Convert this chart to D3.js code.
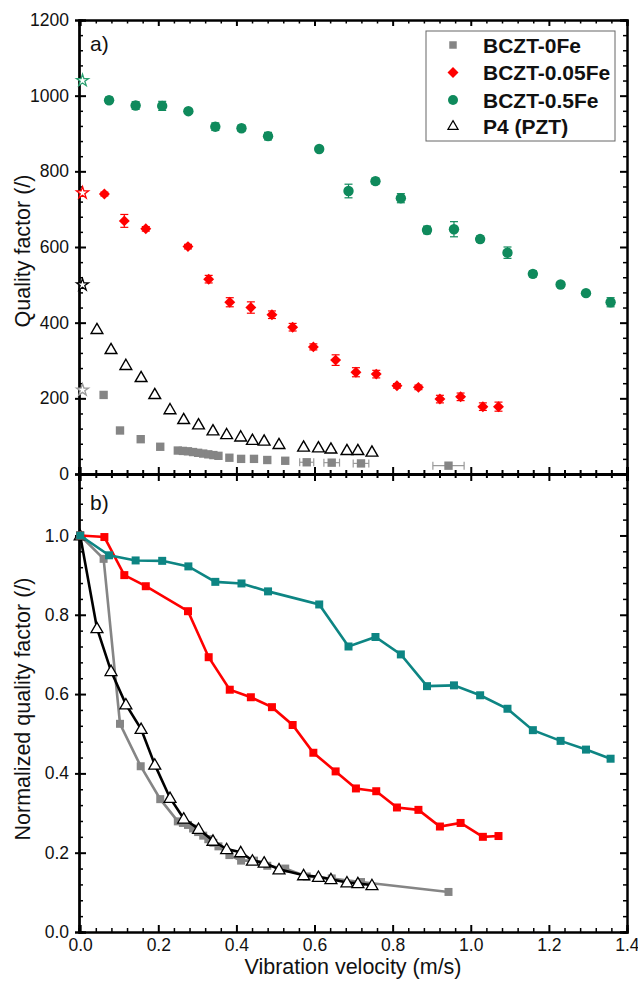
<!DOCTYPE html>
<html>
<head>
<meta charset="utf-8">
<script src="https://cdn.jsdelivr.net/npm/d3@7/dist/d3.min.js"></script>
<style>
  body { margin: 0; background: #fff; }
  text { font-family: "Liberation Sans", Arial, sans-serif; }
</style>
</head>
<body>
<div id="chart"></div>
<script>
// ---- data ----
// a) quality factor vs vibration velocity
var seriesNames = ["BCZT-0Fe", "BCZT-0.05Fe", "BCZT-0.5Fe", "P4 (PZT)"];

// value at v = 0 (stars on the y axis)
var starQ = [222, 743, 1040, 500];

var grayX = [0.06, 0.102, 0.155, 0.205, 0.25, 0.263, 0.276, 0.289, 0.302, 0.315, 0.328, 0.341, 0.354, 0.382, 0.412, 0.445, 0.479, 0.525, 0.58, 0.644, 0.719, 0.943];
var grayQ = [209, 115, 92, 72, 62, 61, 60, 58, 56, 54, 52, 50, 48, 43, 40, 40, 37, 35, 31, 30, 28, 22];
var grayXErr = [0, 0, 0, 0, 0, 0, 0, 0, 0, 0, 0, 0, 0, 0, 0, 0, 0, 0, 0.018, 0.02, 0.02, 0.04];

var redX = [0.062, 0.113, 0.168, 0.276, 0.329, 0.383, 0.437, 0.491, 0.544, 0.597, 0.654, 0.706, 0.758, 0.811, 0.866, 0.921, 0.974, 1.031, 1.071];
var redQ = [740, 669, 648, 601, 515, 454, 440, 421, 388, 336, 301, 269, 264, 233, 229, 198, 204, 178, 178];
var redErr = [5, 17, 6, 6, 10, 12, 15, 10, 10, 8, 14, 12, 10, 6, 6, 10, 10, 10, 12];

var greenX = [0.074, 0.142, 0.21, 0.277, 0.346, 0.413, 0.481, 0.612, 0.687, 0.756, 0.821, 0.888, 0.957, 1.024, 1.094, 1.159, 1.23, 1.295, 1.358];
var greenQ = [988, 974, 973, 959, 918, 914, 893, 859, 748, 774, 729, 645, 647, 621, 585, 529, 501, 478, 454];
var greenErr = [8, 10, 12, 6, 10, 8, 10, 6, 18, 8, 12, 10, 20, 8, 15, 8, 6, 6, 12];

var pztX = [0.043, 0.079, 0.117, 0.156, 0.191, 0.23, 0.265, 0.303, 0.34, 0.375, 0.411, 0.441, 0.471, 0.509, 0.572, 0.61, 0.642, 0.683, 0.711, 0.747];
var pztQ = [383, 330, 288, 256, 211, 171, 145, 131, 115, 105, 99, 90, 88, 79, 72, 70, 67, 63, 63, 59];

// b) normalized quality factor (first point is v = 0)
var grayN = [1.0, 0.941, 0.525, 0.418, 0.335, 0.279, 0.275, 0.27, 0.261, 0.252, 0.243, 0.234, 0.225, 0.216, 0.194, 0.18, 0.18, 0.167, 0.16, 0.14, 0.135, 0.126, 0.101];
var redN = [1.0, 0.996, 0.90, 0.872, 0.809, 0.693, 0.611, 0.592, 0.567, 0.522, 0.452, 0.405, 0.362, 0.355, 0.314, 0.308, 0.266, 0.275, 0.24, 0.242];
var greenN = [1.0, 0.95, 0.937, 0.936, 0.922, 0.883, 0.879, 0.859, 0.826, 0.72, 0.744, 0.70, 0.62, 0.622, 0.597, 0.563, 0.509, 0.482, 0.46, 0.437];
var pztN = [1.0, 0.766, 0.658, 0.574, 0.512, 0.422, 0.338, 0.286, 0.26, 0.23, 0.209, 0.201, 0.18, 0.175, 0.158, 0.143, 0.139, 0.133, 0.125, 0.123, 0.118];

// ticks
var xTicks = [0, 0.2, 0.4, 0.6, 0.8, 1.0, 1.2, 1.4];
var qTicks = [0, 200, 400, 600, 800, 1000, 1200];
var nTicks = [0, 0.2, 0.4, 0.6, 0.8, 1.0];

// ---- layout ----
var svgWidth = 638, svgHeight = 982;
var left = 79, right = 627;
var topA = 20, midY = 474, bottomB = 932;

var colGray = "#858585", colRed = "#ff0000", colGreen = "#0f8a5c", colTeal = "#0d8583";

var svg = d3.select("#chart").append("svg")
  .attr("width", svgWidth)
  .attr("height", svgHeight);

var xScale = d3.scaleLinear().domain([-0.003, 1.4]).range([left, right]);
var yQ = d3.scaleLinear().domain([0, 1200]).range([midY, topA]);
var yN = d3.scaleLinear().domain([0, 1.155]).range([bottomB, midY]);

// minor ticks between majors
var xMinor = d3.range(0, 1.401, 0.04).filter(v => Math.abs(v / 0.2 - Math.round(v / 0.2)) > 1e-6);
var qMinor = d3.range(0, 1201, 40).filter(v => v % 200 !== 0);
var nMinor = d3.range(0, 1.16, 0.04).filter(v => Math.abs(v / 0.2 - Math.round(v / 0.2)) > 1e-6);

function styleAxis(g, w) {
  g.select(".domain").attr("stroke", "#000").attr("stroke-width", w);
  g.selectAll(".tick line").attr("stroke", "#000").attr("stroke-width", 2);
  g.selectAll(".tick text").attr("font-size", "17.5px").attr("fill", "#111")
    .attr("font-family", "'Liberation Sans', Arial, sans-serif");
}

function addAxis(axis, tx, ty, w) {
  var g = svg.append("g").attr("transform", `translate(${tx},${ty})`).call(axis);
  styleAxis(g, w || 2);
  return g;
}

// y axes for both panels
function yAxes(yScale, major, minor, fmt) {
  addAxis(d3.axisLeft(yScale).tickValues(major).tickSize(-7).tickPadding(10).tickFormat(fmt), left, 0);
  addAxis(d3.axisLeft(yScale).tickValues(major).tickSize(4).tickFormat(""), left, 0);
  addAxis(d3.axisLeft(yScale).tickValues(minor).tickSize(-4).tickFormat(""), left, 0)
    .selectAll(".tick line").attr("stroke-width", 1.5);
  addAxis(d3.axisRight(yScale).tickValues(major).tickSize(-7).tickFormat(""), right, 0);
  addAxis(d3.axisRight(yScale).tickValues(minor).tickSize(-4).tickFormat(""), right, 0)
    .selectAll(".tick line").attr("stroke-width", 1.5);
}
yAxes(yQ, qTicks, qMinor, d3.format("d"));
yAxes(yN, nTicks, nMinor, d3.format(".1f"));

// top edge of panel a
addAxis(d3.axisTop(xScale).tickValues(xTicks).tickSize(-6).tickFormat(""), 0, topA);
addAxis(d3.axisTop(xScale).tickValues(xMinor).tickSize(-3.5).tickFormat(""), 0, topA)
  .selectAll(".tick line").attr("stroke-width", 1.5);

// shared middle axis, ticks into both panels
addAxis(d3.axisBottom(xScale).tickValues(xTicks).tickSize(-7).tickFormat(""), 0, midY, 3);
addAxis(d3.axisTop(xScale).tickValues(xTicks).tickSize(-7).tickFormat(""), 0, midY, 3);
addAxis(d3.axisBottom(xScale).tickValues(xMinor).tickSize(-4).tickFormat(""), 0, midY, 3);
addAxis(d3.axisTop(xScale).tickValues(xMinor).tickSize(-4).tickFormat(""), 0, midY, 3);

// bottom axis of panel b
var xAxisB = addAxis(d3.axisBottom(xScale).tickValues(xTicks).tickSize(-7).tickPadding(7).tickFormat(d3.format(".1f")), 0, bottomB);
// keep the last label inside the window
xAxisB.selectAll(".tick text").filter(d => d === 1.4).attr("text-anchor", "end").attr("dx", "12px");
addAxis(d3.axisBottom(xScale).tickValues(xMinor).tickSize(-4).tickFormat(""), 0, bottomB)
  .selectAll(".tick line").attr("stroke-width", 1.5);

// titles
svg.append("text")
  .attr("x", (left + right) / 2).attr("y", 974)
  .attr("text-anchor", "middle").attr("font-size", "21.5px").attr("fill", "#111")
  .text("Vibration velocity (m/s)");

svg.append("text")
  .attr("transform", "translate(30,251) rotate(-90)")
  .attr("text-anchor", "middle").attr("font-size", "21.5px").attr("fill", "#111")
  .text("Quality factor (/)");

svg.append("text")
  .attr("transform", "translate(30,709) rotate(-90)")
  .attr("text-anchor", "middle").attr("font-size", "21.5px").attr("fill", "#111")
  .text("Normalized quality factor (/)");

svg.append("text").attr("x", 90).attr("y", 51).attr("font-size", "21px").attr("fill", "#111").text("a)");
svg.append("text").attr("x", 90).attr("y", 510).attr("font-size", "21px").attr("fill", "#111").text("b)");

// ---- panel a ----
var sym = {
  square: d3.symbol().type(d3.symbolSquare).size(70),
  diamond: d3.symbol().type(d3.symbolSquare).size(60),
  triangle: d3.symbol().type(d3.symbolTriangle).size(60),
  star: d3.symbol().type(d3.symbolStar).size(45)
};

function toPoints(xs, ys, errs) {
  return xs.map((v, i) => ({ x: v, y: ys[i], e: errs ? errs[i] : 0 }));
}

var gA = svg.append("g");

// y error bars
function yErrBars(pts, color) {
  var g = gA.append("g").attr("stroke", color).attr("stroke-width", 1.2);
  pts.filter(d => d.e > 0).forEach(function(d) {
    var cx = xScale(d.x);
    g.append("line").attr("x1", cx).attr("x2", cx).attr("y1", yQ(d.y - d.e)).attr("y2", yQ(d.y + d.e));
    g.append("line").attr("x1", cx - 4).attr("x2", cx + 4).attr("y1", yQ(d.y - d.e)).attr("y2", yQ(d.y - d.e));
    g.append("line").attr("x1", cx - 4).attr("x2", cx + 4).attr("y1", yQ(d.y + d.e)).attr("y2", yQ(d.y + d.e));
  });
}

// gray squares with horizontal error bars
var grayPts = toPoints(grayX, grayQ, grayXErr);
var gx = gA.append("g").attr("stroke", "#9a9a9a").attr("stroke-width", 1.2);
grayPts.filter(d => d.e > 0).forEach(function(d) {
  var cy = yQ(d.y);
  gx.append("line").attr("x1", xScale(d.x - d.e)).attr("x2", xScale(d.x + d.e)).attr("y1", cy).attr("y2", cy);
  gx.append("line").attr("x1", xScale(d.x - d.e)).attr("x2", xScale(d.x - d.e)).attr("y1", cy - 4).attr("y2", cy + 4);
  gx.append("line").attr("x1", xScale(d.x + d.e)).attr("x2", xScale(d.x + d.e)).attr("y1", cy - 4).attr("y2", cy + 4);
});
gA.selectAll(".graySq").data(grayPts).enter().append("path")
  .attr("d", sym.square)
  .attr("transform", d => `translate(${xScale(d.x)},${yQ(d.y)})`)
  .attr("fill", colGray);

// P4 triangles
gA.selectAll(".pztTri").data(toPoints(pztX, pztQ)).enter().append("path")
  .attr("d", sym.triangle)
  .attr("transform", d => `translate(${xScale(d.x)},${yQ(d.y) + 1})`)
  .attr("fill", "#fff").attr("stroke", "#000").attr("stroke-width", 1.4);

// red diamonds
var redPts = toPoints(redX, redQ, redErr);
yErrBars(redPts, colRed);
gA.selectAll(".redDia").data(redPts).enter().append("path")
  .attr("d", sym.diamond)
  .attr("transform", d => `translate(${xScale(d.x)},${yQ(d.y)}) rotate(45)`)
  .attr("fill", colRed);

// green circles
var greenPts = toPoints(greenX, greenQ, greenErr);
yErrBars(greenPts, colGreen);
gA.selectAll(".greenDot").data(greenPts).enter().append("circle")
  .attr("cx", d => xScale(d.x)).attr("cy", d => yQ(d.y)).attr("r", 5.2)
  .attr("fill", colGreen);

// stars at v = 0
var starColors = ["#999999", colRed, "#2aa070", "#000"];
gA.selectAll(".star").data(starQ).enter().append("path")
  .attr("d", sym.star)
  .attr("transform", d => `translate(${xScale(0.006)},${yQ(d)})`)
  .attr("fill", "#fff")
  .attr("stroke", (d, i) => starColors[i]).attr("stroke-width", 1.3);

// legend
var legend = svg.append("g").attr("transform", "translate(426,31)");
legend.append("rect").attr("width", 189).attr("height", 110)
  .attr("fill", "#fff").attr("stroke", "#666").attr("stroke-width", 1);
var legendRows = [14, 41.5, 69, 95.5];
seriesNames.forEach(function(name, i) {
  var row = legend.append("g").attr("transform", `translate(27,${legendRows[i]})`);
  if (i === 0) row.append("path").attr("d", d3.symbol().type(d3.symbolSquare).size(56)).attr("fill", colGray);
  if (i === 1) row.append("path").attr("d", sym.diamond).attr("transform", "rotate(45)").attr("fill", colRed);
  if (i === 2) row.append("circle").attr("r", 5).attr("fill", colGreen);
  if (i === 3) row.append("path").attr("d", d3.symbol().type(d3.symbolTriangle).size(45))
    .attr("fill", "#fff").attr("stroke", "#000").attr("stroke-width", 1.2);
  legend.append("text")
    .attr("x", 57).attr("y", legendRows[i] + 7.5)
    .attr("font-size", "21px").attr("font-weight", "bold").attr("fill", "#111")
    .text(name);
});

// ---- panel b ----
var gB = svg.append("g");
var line = d3.line().x(d => xScale(d.x)).y(d => yN(d.y));

function normSeries(xs, ns) {
  var xsAll = [0].concat(xs);
  return xsAll.map((v, i) => ({ x: v, y: ns[i] }));
}

function drawLine(pts, color, marker) {
  gB.append("path").datum(pts)
    .attr("d", line)
    .attr("fill", "none").attr("stroke", color).attr("stroke-width", 2.6);
  if (marker === "square") {
    gB.append("g").selectAll("path").data(pts).enter().append("path")
      .attr("d", d3.symbol().type(d3.symbolSquare).size(64))
      .attr("transform", d => `translate(${xScale(d.x)},${yN(d.y)})`)
      .attr("fill", color);
  } else {
    gB.append("g").selectAll("path").data(pts).enter().append("path")
      .attr("d", d3.symbol().type(d3.symbolTriangle).size(62))
      .attr("transform", d => `translate(${xScale(d.x)},${yN(d.y) + 1})`)
      .attr("fill", "#fff").attr("stroke", "#000").attr("stroke-width", 1.3);
  }
}

drawLine(normSeries(grayX, grayN), colGray, "square");
drawLine(normSeries(pztX, pztN), "#000", "triangle");
drawLine(normSeries(redX, redN), colRed, "square");
drawLine(normSeries(greenX, greenN), colTeal, "square");
</script>
</body>
</html>
